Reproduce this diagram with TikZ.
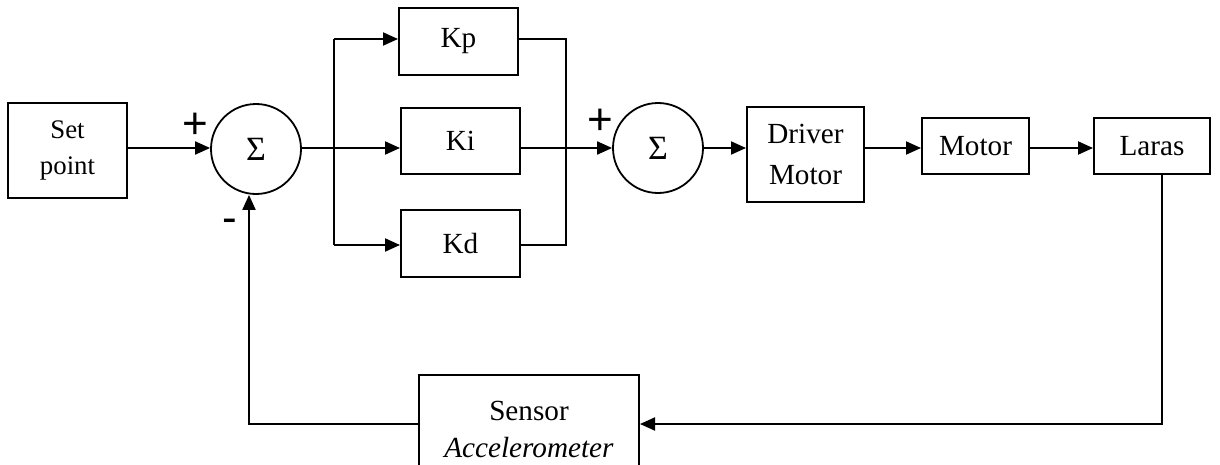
\documentclass[tikz,border=0pt]{standalone}
\usepackage{fontspec}
\setmainfont{Liberation Serif}
\newfontfamily\signfont{Liberation Sans}
\usetikzlibrary{arrows.meta}
\begin{document}
\begin{tikzpicture}[x=0.5pt,y=-0.5pt,
  blk/.style={draw, line width=1pt, inner sep=0pt, align=center,
    font=\fontsize{14.6}{18.5}\selectfont},
  sumnode/.style={draw, circle, line width=0.9pt, minimum size=45pt, inner sep=0pt,
    font=\fontsize{17}{17}\selectfont},
  sig/.style={font=\signfont\fontsize{22}{22}\selectfont, inner sep=0pt},
  wire/.style={line width=1pt},
  thinwire/.style={line width=0.75pt},
  arr/.style={wire, -{Triangle[length=7.5pt,width=6.5pt]}}
]
\clip (0,0) rectangle (1220,465);
\fill[white] (0,0) rectangle (1220,465);

\node[blk, minimum width=59.5pt, minimum height=47.5pt, font=\fontsize{13.4}{18}\selectfont] (sp) at (67.5,150.5) {Set\\point};
\node[sumnode] (s1) at (256,149) {Σ};
\node[blk, minimum width=59.5pt, minimum height=33.5pt] (kp) at (458.5,41.5) {Kp};
\node[blk, minimum width=59.5pt, minimum height=33pt] (ki) at (460.5,141) {Ki};
\node[blk, minimum width=59.5pt, minimum height=33.5pt] (kd) at (460.5,243.5) {Kd};
\node[sumnode] (s2) at (658,148) {Σ};
\node[blk, minimum width=58.5pt, minimum height=47.5pt, font=\fontsize{14.6}{20.5}\selectfont] (drv) at (805.5,154.5) {Driver\\Motor};
\node[blk, minimum width=53.5pt, minimum height=28pt] (mot) at (975.5,146) {Motor};
\node[blk, minimum width=58pt, minimum height=28pt] (lar) at (1152,146) {Laras};
\node[blk, minimum width=110pt, minimum height=54pt] (sen) at (529,429) {Sensor\\\textit{Accelerometer}};

\coordinate (br) at (334,148);
\coordinate (brt) at (334,39);
\coordinate (brb) at (334,245);
\coordinate (jn) at (566,148);
\coordinate (jnt) at (566,39);
\coordinate (jnb) at (566,245);
\coordinate (fbr) at (1162,424);
\coordinate (fbl) at (249,424);

% forward path
\draw[arr] (sp.east |- br) -- (s1.west |- br);
\draw[wire] (s1.east |- br) -- (br);
\draw[wire] (brt) -- (brb);
\draw[arr] (brt) -- (kp.west |- brt);
\draw[arr] (br) -- (ki.west |- br);
\draw[arr] (brb) -- (kd.west |- brb);
\draw[thinwire] (kp.east |- jnt) -- (jnt) -- (jnb) -- (kd.east |- jnb);
\draw[arr] (ki.east |- s2.west) -- (s2.west);
\draw[arr] (s2.east) -- (drv.west |- s2.east);
\draw[arr] (drv.east |- s2.east) -- (mot.west |- s2.east);
\draw[arr] (mot.east |- s2.east) -- (lar.west |- s2.east);

% feedback path
\draw[arr] (lar.south -| fbr) -- (fbr) -- (sen.east |- fbr);
\draw[arr] (sen.west |- fbl) -- (fbl) -- (s1.south -| fbl);

% signs
\node[sig] (p1) at (195,126) {+};
\node[sig] (p2) at (600,122) {+};
\node[sig] (m1) at (230,226) {-};
\end{tikzpicture}
\end{document}
